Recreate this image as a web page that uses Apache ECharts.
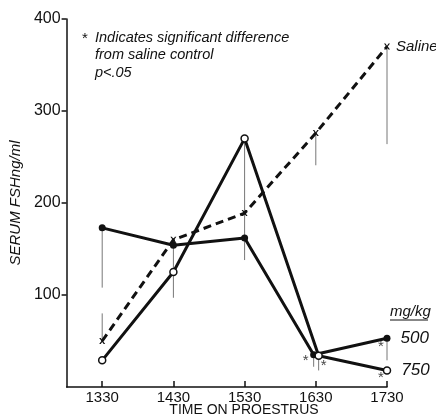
<!DOCTYPE html>
<html>
<head>
<meta charset="utf-8">
<script src="https://cdn.jsdelivr.net/npm/echarts@6/dist/echarts.min.js"></script>
<style>
  html, body { margin: 0; padding: 0; background: #fff; }
  #chart { width: 436px; height: 416px; }
</style>
</head>
<body>
<div id="chart"></div>
<script>
// time on proestrus (x) and serum FSH values
const times = [1330, 1430, 1530, 1630, 1730];
const times500 = [1330, 1430, 1530, 1627, 1730];
const times750 = [1330, 1430, 1530, 1634, 1730];

const saline = [50, 160, 189, 276, 370];
const dose500 = [173, 154, 162, 35, 53];
const dose750 = [29, 125, 270, 34, 18];

// far end of each error bar (null = none drawn)
const salineErr = [80, null, null, 241, 264];
const err500 = [108, 125, 138, 22, 29];
const err750 = [null, 97, 162, 18, null];

// * = significant difference from saline
const sig500 = [false, false, false, true, true];
const sig750 = [false, false, false, true, true];

const yTicks = [100, 200, 300, 400];

const ink = '#111';
const barColor = '#777';
const fontFamily = 'Liberation Sans';

const xSymbol = 'path://M0,0L2.5,0L5,3.5L7.5,0L10,0L6.3,5L10,10L7.5,10L5,6.5L2.5,10L0,10L3.7,5Z';

// thin vertical bars from each mean to its error end
function errorSeries(xs, ys, ends) {
  const out = [];
  ends.forEach((end, i) => {
    if (end == null) return;
    out.push({
      type: 'line',
      data: [[xs[i], ys[i]], [xs[i], end]],
      symbol: 'none',
      silent: true,
      z: 1,
      lineStyle: { color: barColor, width: 1 },
    });
  });
  return out;
}

// series data with a name label on the last point
function withEndLabel(xs, ys, text, size, dist) {
  return xs.map((x, i) => {
    const item = { value: [x, ys[i]] };
    if (i === xs.length - 1) {
      item.label = {
        show: true,
        position: 'right',
        distance: dist,
        formatter: text,
        fontSize: size,
        fontStyle: 'italic',
        color: ink,
        fontFamily: fontFamily,
      };
    }
    return item;
  });
}

// asterisks as labels on the flagged points
function starSeries(xs, ys, sig, offsets) {
  return {
    type: 'scatter',
    symbol: 'circle',
    symbolSize: 1,
    silent: true,
    z: 4,
    itemStyle: { color: 'rgba(0,0,0,0)' },
    data: xs.map((x, i) => ({
      value: [x, ys[i]],
      label: {
        show: sig[i],
        formatter: '*',
        position: 'inside',
        offset: offsets[i],
        fontSize: 15,
        color: ink,
        fontFamily: fontFamily,
      },
    })),
  };
}

const series = [
  ...errorSeries(times, saline, salineErr),
  ...errorSeries(times500, dose500, err500),
  ...errorSeries(times750, dose750, err750),
  {
    name: 'Saline',
    type: 'line',
    data: withEndLabel(times, saline, 'Saline', 15, 6),
    symbol: xSymbol,
    symbolSize: 6,
    z: 3,
    itemStyle: { color: ink },
    lineStyle: { color: ink, width: 3, type: [8, 5] },
  },
  {
    name: '500',
    type: 'line',
    data: withEndLabel(times500, dose500, '500', 17, 10),
    symbol: 'circle',
    symbolSize: 7,
    z: 3,
    itemStyle: { color: ink },
    lineStyle: { color: ink, width: 3 },
  },
  {
    name: '750',
    type: 'line',
    data: withEndLabel(times750, dose750, '750', 17, 10),
    symbol: 'circle',
    symbolSize: 7,
    z: 3,
    itemStyle: { color: '#fff', borderColor: ink, borderWidth: 1.5 },
    lineStyle: { color: ink, width: 3 },
  },
  starSeries(times500, dose500, sig500, [[0, 0], [0, 0], [0, 0], [-8, 6], [-6, 9]]),
  starSeries(times750, dose750, sig750, [[0, 0], [0, 0], [0, 0], [5, 10], [-6, 7]]),
];

const chart = echarts.init(document.getElementById('chart'), null, { renderer: 'canvas' });

chart.setOption({
  animation: false,
  backgroundColor: '#fff',
  textStyle: { fontFamily: fontFamily },
  grid: { left: 65, right: 49, top: 19, bottom: 29 },
  xAxis: {
    type: 'value',
    min: 1280,
    max: 1730,
    splitLine: { show: false },
    axisLine: { lineStyle: { color: ink, width: 1.5 } },
    axisTick: { inside: true, length: 6, lineStyle: { color: ink, width: 1.5 }, customValues: times },
    axisLabel: {
      color: ink,
      fontSize: 15,
      margin: 3,
      customValues: times,
      fontFamily: fontFamily,
      formatter: (v) => String(v),
    },
  },
  yAxis: {
    type: 'value',
    min: 0,
    max: 400,
    interval: 100,
    splitLine: { show: false },
    axisLine: { show: true, lineStyle: { color: ink, width: 1.5 } },
    axisTick: { show: true, length: 5, lineStyle: { color: ink, width: 1.5 }, customValues: yTicks },
    axisLabel: {
      color: ink,
      fontSize: 16,
      margin: 6,
      fontFamily: fontFamily,
      customValues: yTicks,
    },
    name: 'SERUM FSHng/ml',
    nameLocation: 'middle',
    nameRotate: 90,
    nameGap: 28,
    nameTextStyle: { color: ink, fontSize: 15, fontStyle: 'italic', fontFamily: fontFamily },
  },
  graphic: [
    { type: 'text', left: 82, top: 31, style: { text: '*', fontSize: 15, fill: ink, fontFamily: fontFamily } },
    {
      type: 'text', left: 95, top: 29,
      style: {
        text: 'Indicates significant difference\nfrom saline control\np<.05',
        fontSize: 14.5, lineHeight: 17.5, fontStyle: 'italic', fill: ink, fontFamily: fontFamily,
      },
    },
    {
      type: 'text', left: 390, top: 304,
      style: { text: 'mg/kg', fontSize: 15, fontStyle: 'italic', fill: ink, fontFamily: fontFamily },
    },
    { type: 'line', shape: { x1: 390, y1: 320, x2: 428, y2: 320 }, style: { stroke: ink, lineWidth: 1.2 } },
    {
      type: 'text', x: 244, y: 403,
      style: { text: 'TIME ON PROESTRUS', fontSize: 14, fill: ink, align: 'center', fontFamily: fontFamily },
    },
  ],
  series: series,
});
</script>
</body>
</html>
